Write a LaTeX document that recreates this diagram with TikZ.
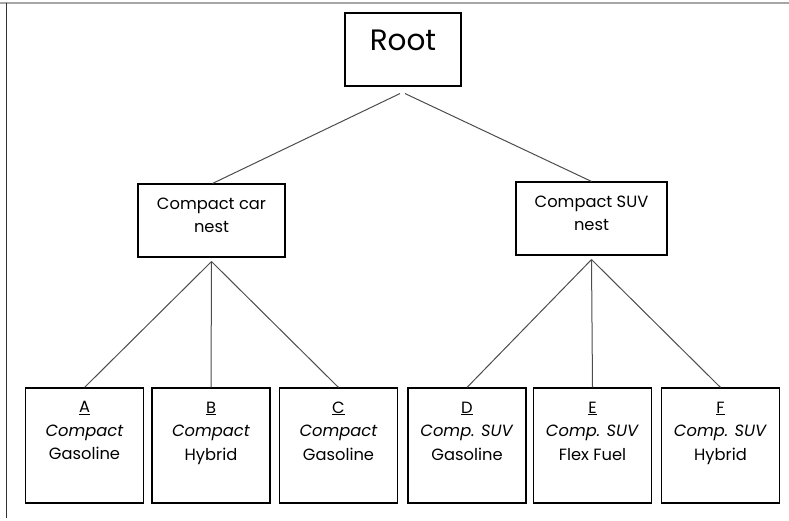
\documentclass[tikz,border=0pt]{standalone}
\usepackage{fontspec}
\setmainfont{Poppins}
\usetikzlibrary{positioning}

\begin{document}
\begin{tikzpicture}[x=1pt,y=-1pt,
  box/.style={draw,line width=1.1pt,rectangle,inner sep=0pt},
  leafbox/.style={box,minimum width=118pt,minimum height=115pt},
  nestbox/.style={box,minimum width=149pt,minimum height=73pt},
  txt/.style={align=center,inner sep=0pt,font=\fontsize{16.3}{23.5}\selectfont},
  link/.style={draw=black!70,line width=1pt}]
\useasboundingbox (0,0) rectangle (789,521);
\draw[gray!70,line width=1.5pt] (0,3) -- (789,3);
\draw[black!80,thick] (6,3) -- (6,518);

\node[box,minimum width=116pt,minimum height=73pt] (root) at (403,49.5) {};
\node[inner sep=0pt,font=\fontsize{29.5}{36}\selectfont,below=17pt of root.north] (roottxt) {Root};

\node[nestbox,minimum width=147pt] (car) at (211.5,220.5) {};
\node[txt,below=14pt of car.north] (cartxt) {Compact car\\nest};
\node[nestbox,minimum width=151pt] (suv) at (591.5,218.5) {};
\node[txt,below=14pt of suv.north] (suvtxt) {Compact SUV\\nest};

\node[leafbox] (A) at (84.5,445.5) {};
\node[leafbox] (B) at (211,445.5) {};
\node[leafbox] (C) at (338.5,445.5) {};
\node[leafbox] (D) at (467,445.5) {};
\node[leafbox] (E) at (592.5,445.5) {};
\node[leafbox] (F) at (720.5,445.5) {};

\node[txt,below=14pt of A.north] (Atxt) {\underline{A}\\\textit{Compact}\\Gasoline};
\node[txt,below=14pt of B.north] (Btxt) {\underline{B}\\\textit{Compact}\\Hybrid};
\node[txt,below=14pt of C.north] (Ctxt) {\underline{C}\\\textit{Compact}\\Gasoline};
\node[txt,below=14pt of D.north] (Dtxt) {\underline{D}\\\textit{Comp. SUV}\\Gasoline};
\node[txt,below=14pt of E.north] (Etxt) {\underline{E}\\\textit{Comp. SUV}\\Flex Fuel};
\node[txt,below=14pt of F.north] (Ftxt) {\underline{F}\\\textit{Comp. SUV}\\Hybrid};

\draw[link] ([xshift=-3pt,yshift=-7pt]root.south) -- ([xshift=1pt]car.north);
\draw[link] ([xshift=2pt,yshift=-7pt]root.south) -- (suv.north);
\foreach \leaf in {A,B,C}
  \draw[link] ([yshift=-4pt]car.south) -- (\leaf.north);
\foreach \leaf in {D,E,F}
  \draw[link] ([yshift=-4pt]suv.south) -- (\leaf.north);
\end{tikzpicture}
\end{document}
